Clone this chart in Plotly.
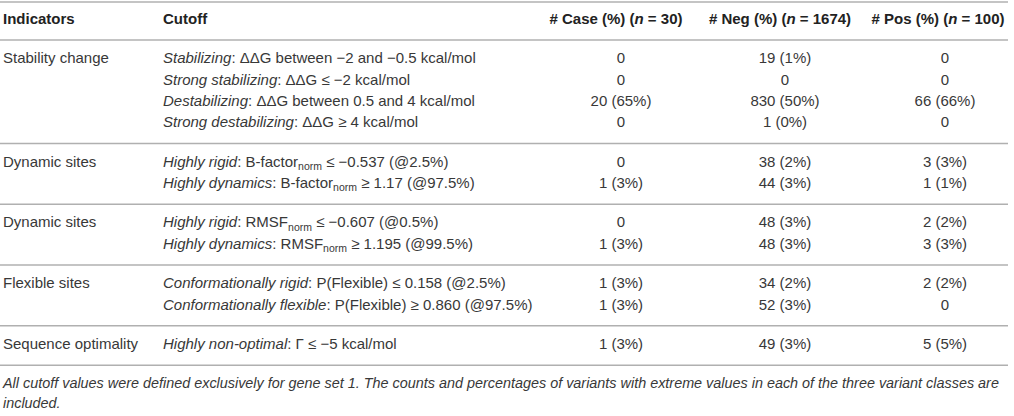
import plotly.graph_objects as go

# Table content
headers = ["Indicators", "Cutoff", "# Case (%) (<i>n</i> = 30)",
           "# Neg (%) (<i>n</i> = 1674)", "# Pos (%) (<i>n</i> = 100)"]

indicators = ["Stability change", "Dynamic sites", "Dynamic sites",
              "Flexible sites", "Sequence optimality"]

cutoffs = [
    ["<i>Stabilizing</i>: ΔΔG between −2 and −0.5 kcal/mol",
     "<i>Strong stabilizing</i>: ΔΔG ≤ −2 kcal/mol",
     "<i>Destabilizing</i>: ΔΔG between 0.5 and 4 kcal/mol",
     "<i>Strong destabilizing</i>: ΔΔG ≥ 4 kcal/mol"],
    ["<i>Highly rigid</i>: B-factor<sub>norm</sub> ≤ −0.537 (@2.5%)",
     "<i>Highly dynamics</i>: B-factor<sub>norm</sub> ≥ 1.17 (@97.5%)"],
    ["<i>Highly rigid</i>: RMSF<sub>norm</sub> ≤ −0.607 (@0.5%)",
     "<i>Highly dynamics</i>: RMSF<sub>norm</sub> ≥ 1.195 (@99.5%)"],
    ["<i>Conformationally rigid</i>: P(Flexible) ≤ 0.158 (@2.5%)",
     "<i>Conformationally flexible</i>: P(Flexible) ≥ 0.860 (@97.5%)"],
    ["<i>Highly non-optimal</i>: Γ ≤ −5 kcal/mol"],
]

case_vals = ["0", "0", "20 (65%)", "0", "0", "1 (3%)", "0", "1 (3%)",
             "1 (3%)", "1 (3%)", "1 (3%)"]
neg_vals = ["19 (1%)", "0", "830 (50%)", "1 (0%)", "38 (2%)", "44 (3%)",
            "48 (3%)", "48 (3%)", "34 (2%)", "52 (3%)", "49 (3%)"]
pos_vals = ["0", "0", "66 (66%)", "0", "3 (3%)", "1 (1%)", "2 (2%)",
            "3 (3%)", "2 (2%)", "0", "5 (5%)"]

footnote = ["All cutoff values were defined exclusively for gene set 1. The counts and "
            "percentages of variants with extreme values in each of the three variant classes are",
            "included."]

# Layout of rows (pixel-like coordinates)
W, H = 1014, 416
row_h = 21.3
gap = 19.5
header_y = 20
rules = [2, 40]
row_y = []
group_y = []
y = rules[-1] + gap
for grp in cutoffs:
    group_y.append(y)
    for i in range(len(grp)):
        row_y.append(y)
        y += row_h
    rule = y - row_h + gap + 0.5
    rules.append(rule)
    y = rule + gap

foot_y = [rules[-1] + 19.5, rules[-1] + 39]

x_ind, x_cut = 3, 163
x_cols = [621, 785, 945]
x_head = [616, 780, 938]

txt = "#383838"
font = "Liberation Sans"
fs = 15

fig = go.Figure()

# header
fig.add_trace(go.Scatter(
    x=[x_ind, x_cut], y=[header_y, header_y], mode="text",
    text=["<b>%s</b>" % h for h in headers[:2]], textposition="middle right",
    textfont=dict(family=font, size=fs, color="#222222"), hoverinfo="skip"))
fig.add_trace(go.Scatter(
    x=x_head, y=[header_y] * 3, mode="text",
    text=["<b>%s</b>" % h for h in headers[2:]], textposition="middle center",
    textfont=dict(family=font, size=fs, color="#222222"), hoverinfo="skip"))

# indicators
fig.add_trace(go.Scatter(
    x=[x_ind] * len(indicators), y=group_y, mode="text", text=indicators,
    textposition="middle right", textfont=dict(family=font, size=fs, color=txt),
    hoverinfo="skip"))

# cutoffs
flat_cut = [c for grp in cutoffs for c in grp]
fig.add_trace(go.Scatter(
    x=[x_cut] * len(flat_cut), y=row_y, mode="text", text=flat_cut,
    textposition="middle right", textfont=dict(family=font, size=fs, color=txt),
    hoverinfo="skip"))

# value columns
for xc, vals in zip(x_cols, [case_vals, neg_vals, pos_vals]):
    fig.add_trace(go.Scatter(
        x=[xc] * len(vals), y=row_y, mode="text", text=vals,
        textposition="middle center", textfont=dict(family=font, size=fs, color=txt),
        hoverinfo="skip"))

# footnote
fig.add_trace(go.Scatter(
    x=[x_ind, x_ind], y=foot_y, mode="text",
    text=["<i>%s</i>" % f for f in footnote], textposition="middle right",
    textfont=dict(family=font, size=14.4, color=txt), hoverinfo="skip"))

# horizontal rules
for r in rules:
    fig.add_shape(type="line", x0=0, x1=1008, y0=r, y1=r,
                  line=dict(color="#b0b0b0", width=1.5))

fig.update_xaxes(range=[0, W], visible=False, fixedrange=True)
fig.update_yaxes(range=[H, 0], visible=False, fixedrange=True)
fig.update_layout(
    width=W, height=H, margin=dict(l=0, r=0, t=0, b=0),
    plot_bgcolor="white", paper_bgcolor="white", showlegend=False,
)

# drop the default 8px page margin so the figure fills the window
fig.write_html("out.html", config={"displayModeBar": False},
               post_script="document.body.style.margin='0';")
